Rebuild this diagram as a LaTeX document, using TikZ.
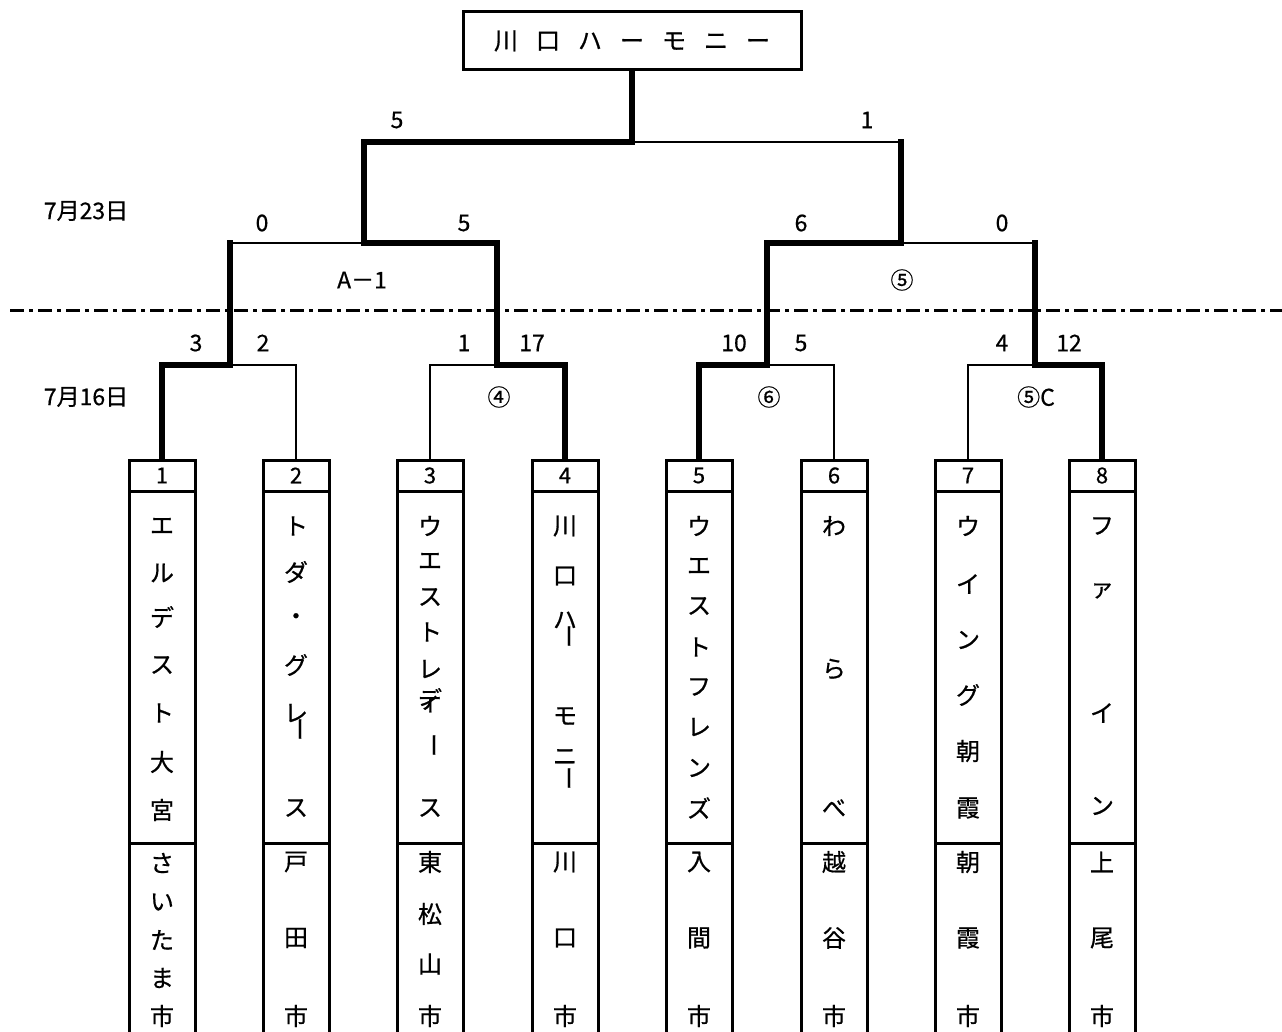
\documentclass[tikz,border=0pt]{standalone}
\usepackage{fontspec}
\setmainfont{Noto Sans CJK JP}[FakeBold=0.6]
\newcommand\colchars[3]{%
  \foreach \yy/\cc [count=\k] in {#3} {\node[ch] (#1-\k) at (#2,\yy) {\cc};}}
\begin{document}
\begin{tikzpicture}[x=1pt,y=-1pt,
  box/.style={draw, line width=3pt, minimum width=66pt, inner sep=0pt},
  numbox/.style={box, minimum height=31pt, font=\fontsize{22}{22}\selectfont},
  namebox/.style={box, minimum height=352pt},
  citybox/.style={box, minimum height=250pt},
  win/.style={line width=6pt, line cap=rect, line join=miter},
  lose/.style={line width=2pt},
  ch/.style={inner sep=0pt, font=\fontsize{24}{24}\selectfont},
  vbar/.style={ch, rotate=-90},
  score/.style={inner sep=0pt, font=\fontsize{23}{23}\selectfont},
  dashdot/.style={line width=3pt, dash pattern=on 14pt off 5pt on 4pt off 5pt}]
\clip (0,0) rectangle (1282,1032);
\fill[white] (0,0) rectangle (1282,1032);

% title box
\node[draw, line width=3pt, minimum width=338pt, minimum height=58pt, inner sep=0pt,
      font=\fontsize{24}{24}\selectfont] (top) at (632,41)
  {川\kern18pt 口\kern18pt ハ\kern18pt ー\kern18pt モ\kern18pt ニ\kern18pt ー};

% team boxes
\foreach \i/\x in {1/162,2/296,3/430,4/565,5/699,6/834,7/968,8/1102} {
  \node[numbox] (t\i) at (\x,475.5) {\i};
  \node[namebox] (n\i) at (\x,667) {};
  \node[citybox] (c\i) at (\x,968) {};
}

% dash-dot separator
\coordinate (dl) at (10,310);
\coordinate (dr) at (1282,310);
\draw[dashdot] (dl) -- (dr);

% junctions
\coordinate (j12) at (230,365);
\coordinate (j34) at (497,365);
\coordinate (j56) at (767,365);
\coordinate (j78) at (1035,365);
\coordinate (u12) at (230,243);
\coordinate (sL) at (364,243);
\coordinate (sR) at (901,243);
\coordinate (u78) at (1035,243);
\coordinate (fin) at (632,142);
\coordinate (uR) at (901,142);

% losing lines
\draw[lose] (t2.north) |- (j12);
\draw[lose] (t3.north) |- (j34);
\draw[lose] (t6.north) |- (j56);
\draw[lose] (t7.north) |- (j78);
\draw[lose] (u12) -- (sL);
\draw[lose] (sR) -- (u78);
\draw[lose] (fin) -- (uR);

% winning lines
\draw[win] (t1.north) |- (j12) -- (u12);
\draw[win] (t4.north) |- (j34) |- (sL) |- (fin) -- (top.south);
\draw[win] (t5.north) |- (j56) |- (sR) -- (uR);
\draw[win] (t8.north) |- (j78) -- (u78);

% scores
\node[score] (f1) at (397,120) {5};
\node[score] (f2) at (867,120) {1};
\node[score] (s1) at (262,223) {0};
\node[score] (s2) at (464,223) {5};
\node[score] (s3) at (801,223) {6};
\node[score] (s4) at (1002,223) {0};
\node[score] (r1) at (196,343) {3};
\node[score] (r2) at (263,343) {2};
\node[score] (r3) at (464,343) {1};
\node[score] (r4) at (532,343) {17};
\node[score] (r5) at (734,343) {10};
\node[score] (r6) at (801,343) {5};
\node[score] (r7) at (1002,343) {4};
\node[score] (r8) at (1069,343) {12};

% dates and match labels
\node[score] (d23) at (86,211) {7月23日};
\node[score] (d16) at (86,397) {7月16日};
\node[score] (mA) at (362,280) {A－1};
\node[score] (m5) at (902,280) {⑤};
\node[score] (m4) at (499,397) {④};
\node[score] (m6) at (769,397) {⑥};
\node[score] (m5c) at (1036,397) {⑤C};

% team names
\colchars{a1}{162}{526/エ,573/ル,617/デ,665/ス,713/ト,762/大,810/宮}
\colchars{a2}{296}{526/ト,572/ダ,619/・,665/グ,713/レ,808/ス}
\node[vbar] (v2) at (296,729) {ー};
\colchars{a3}{430}{526/ウ,561/エ,597/ス,632/ト,669/レ,699/デ,704/ィ,808/ス}
\node[vbar] (v3) at (430,745) {ー};
\colchars{a4}{565}{526/川,576/口,620/ハ,716/モ,757/ニ}
\node[vbar] (v4a) at (565,636) {ー};
\node[vbar] (v4b) at (565,778) {ー};
\colchars{a5}{699}{526/ウ,566/エ,606/ス,647/ト,687/フ,727/レ,768/ン,808/ズ}
\colchars{a6}{834}{526/わ,669/ら,808/べ}
\colchars{a7}{968}{526/ウ,584/イ,640/ン,695/グ,751/朝,808/霞}
\colchars{a8}{1102}{526/フ,591/ァ,713/イ,806/ン}

% cities
\colchars{b1}{162}{863/さ,902/い,940/た,978/ま,1016/市}
\colchars{b2}{296}{862/戸,938/田,1016/市}
\colchars{b3}{430}{862/東,914/松,964/山,1016/市}
\colchars{b4}{565}{862/川,938/口,1016/市}
\colchars{b5}{699}{862/入,938/間,1016/市}
\colchars{b6}{834}{862/越,938/谷,1016/市}
\colchars{b7}{968}{862/朝,938/霞,1016/市}
\colchars{b8}{1102}{862/上,938/尾,1016/市}
\end{tikzpicture}
\end{document}
